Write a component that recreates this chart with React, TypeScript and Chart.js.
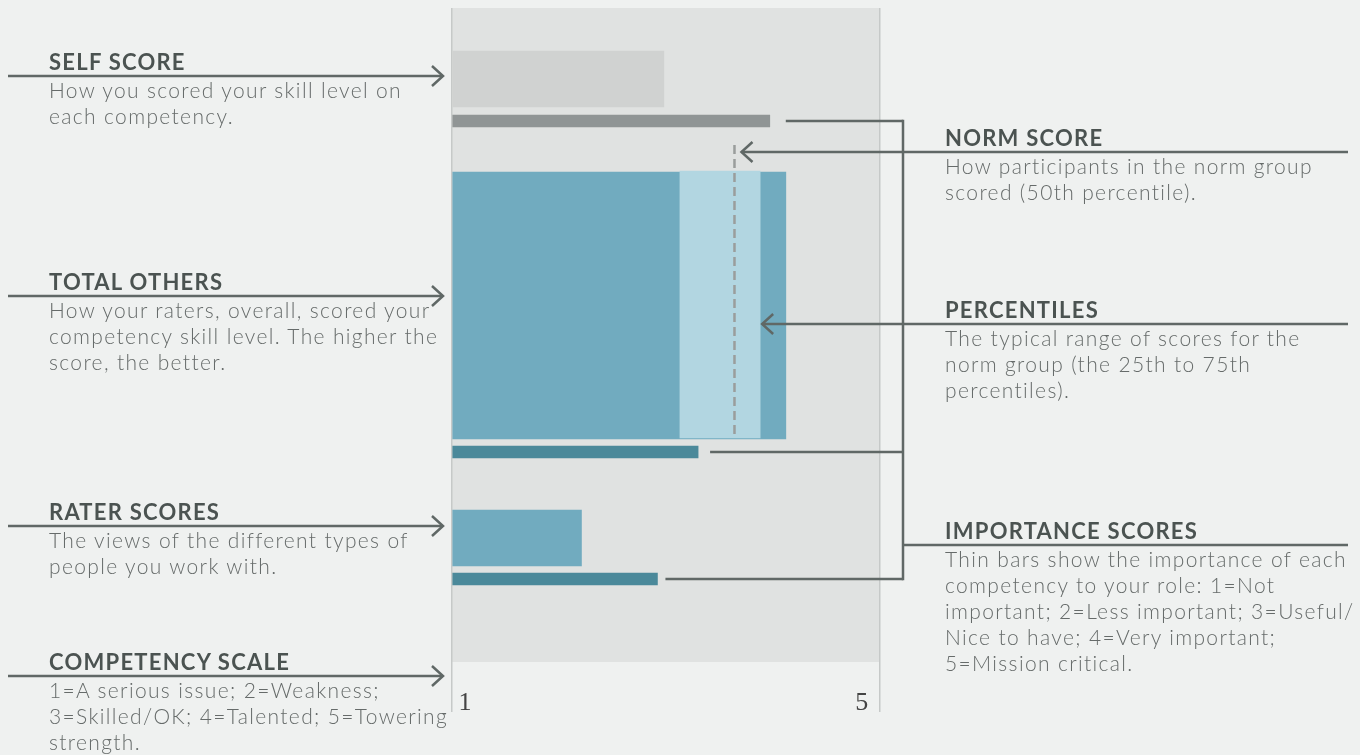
import React, { useEffect, useRef } from 'react';
import { Chart, registerables } from 'chart.js';

Chart.register(...registerables);

// ---------- data ----------
const SCALE_MIN = 1;
const SCALE_MAX = 5;
const TICK_VALUES = [1, 5];
const TICK_LABELS = ['1', '5'];
const ROW_NAMES = ['Self score', 'Total others', 'Rater scores'];
const SKILL_SCORES = [2.98, 4.12, 2.21];
const IMPORTANCE_SCORES = [3.97, 3.3, 2.92];
const PERCENTILE_RANGE = [3.13, 3.88];
const NORM_SCORE = 3.64;

// ---------- layout (plot-height units, measured from the top of the plot) ----------
const PLOT_SPAN = 654;
const SCORE_ROW = [71, 297.5, 530];
const IMPORTANCE_ROW = [113, 444, 571];
const PERCENTILE_ROW = 296.5;
const NORM_LINE_SPAN = [137, 427];
const SCORE_THICKNESS = [56, 267, 56];
const IMPORTANCE_THICKNESS = 12;
const PERCENTILE_THICKNESS = 267;

// ---------- styles ----------
const PAGE_BG = '#eff1f0';
const PLOT_BG = '#e0e2e1';
const SCORE_COLORS = ['#d0d2d1', '#71abbf', '#71abbf'];
const IMPORTANCE_COLORS = ['#909595', '#4b899a', '#4b899a'];
const PERCENTILE_COLOR = '#b2d6e1';
const NORM_COLOR = '#9a9d9c';
const GRID_COLOR = '#c6c9c8';
const CALLOUT_COLOR = '#606866';
const TITLE_COLOR = '#4b5351';
const BODY_COLOR = '#666b6a';

const LEFT_NOTES = [
  { y: 76, title: 'SELF SCORE', lines: ['How you scored your skill level on', 'each competency.'] },
  { y: 296, title: 'TOTAL OTHERS', lines: ['How your raters, overall, scored your', 'competency skill level. The higher the', 'score, the better.'] },
  { y: 526, title: 'RATER SCORES', lines: ['The views of the different types of', 'people you work with.'] },
  { y: 676, title: 'COMPETENCY SCALE', lines: ['1=A serious issue; 2=Weakness;', '3=Skilled/OK; 4=Talented; 5=Towering', 'strength.'] },
];
const RIGHT_NOTES = [
  { y: 152, title: 'NORM SCORE', lines: ['How participants in the norm group', 'scored (50th percentile).'] },
  { y: 324, title: 'PERCENTILES', lines: ['The typical range of scores for the', 'norm group (the 25th to 75th', 'percentiles).'] },
  { y: 545, title: 'IMPORTANCE SCORES', lines: ['Thin bars show the importance of each', 'competency to your role: 1=Not', 'important; 2=Less important; 3=Useful/', 'Nice to have; 4=Very important;', '5=Mission critical.'] },
];

const FONT = 'Lato, "Open Sans", sans-serif';

function arrowHead(ctx: CanvasRenderingContext2D, x: number, y: number, dir: number) {
  ctx.beginPath();
  ctx.moveTo(x - dir * 11, y - 10);
  ctx.lineTo(x, y);
  ctx.lineTo(x - dir * 11, y + 10);
  ctx.stroke();
}

const backdropPlugin = {
  id: 'backdrop',
  beforeDraw(chart: any) {
    const { ctx, chartArea: a } = chart;
    ctx.save();
    ctx.fillStyle = PLOT_BG;
    ctx.fillRect(a.left, a.top, a.right - a.left, a.bottom - a.top);
    ctx.restore();
  },
};

const calloutPlugin = {
  id: 'callouts',
  afterDraw(chart: any) {
    const { ctx } = chart;
    const xs = chart.scales.x;
    const ys = chart.scales.y;
    ctx.save();
    ctx.strokeStyle = CALLOUT_COLOR;
    ctx.lineWidth = 2.5;
    ctx.lineCap = 'butt';
    ctx.lineJoin = 'miter';
    // left arrows
    LEFT_NOTES.forEach((n) => {
      ctx.beginPath();
      ctx.moveTo(8, n.y);
      ctx.lineTo(443, n.y);
      ctx.stroke();
      arrowHead(ctx, 443, n.y, 1);
    });
    // norm arrow
    const normTip = xs.getPixelForValue(NORM_SCORE) + 7;
    ctx.beginPath();
    ctx.moveTo(1348, RIGHT_NOTES[0].y);
    ctx.lineTo(normTip, RIGHT_NOTES[0].y);
    ctx.stroke();
    arrowHead(ctx, normTip, RIGHT_NOTES[0].y, -1);
    // percentile arrow
    const pctTip = xs.getPixelForValue(PERCENTILE_RANGE[1]) + 2;
    ctx.beginPath();
    ctx.moveTo(1348, RIGHT_NOTES[1].y);
    ctx.lineTo(pctTip, RIGHT_NOTES[1].y);
    ctx.stroke();
    arrowHead(ctx, pctTip, RIGHT_NOTES[1].y, -1);
    // importance bracket
    const bx = 903;
    const gaps = [16, 12, 8];
    const rowsY = IMPORTANCE_ROW.map((r) => ys.getPixelForValue(r));
    rowsY.forEach((yy, i) => {
      ctx.beginPath();
      ctx.moveTo(xs.getPixelForValue(IMPORTANCE_SCORES[i]) + gaps[i], yy);
      ctx.lineTo(bx, yy);
      ctx.stroke();
    });
    ctx.beginPath();
    ctx.moveTo(bx, rowsY[0] - 1.25);
    ctx.lineTo(bx, rowsY[2] + 1.25);
    ctx.stroke();
    ctx.beginPath();
    ctx.moveTo(bx, RIGHT_NOTES[2].y);
    ctx.lineTo(1348, RIGHT_NOTES[2].y);
    ctx.stroke();
    ctx.restore();
  },
};

function Note({ x, y, title, lines }: { x: number; y: number; title: string; lines: string[] }) {
  return (
    <>
      <div
        style={{
          position: 'absolute',
          left: x,
          top: y - 27.5,
          font: `700 22px/26px ${FONT}`,
          letterSpacing: '1.25px',
          color: TITLE_COLOR,
          whiteSpace: 'nowrap',
        }}
      >
        {title}
      </div>
      <div
        style={{
          position: 'absolute',
          left: x,
          top: y + 1,
          font: `300 21px/26px ${FONT}`,
          letterSpacing: '1.35px',
          color: BODY_COLOR,
          whiteSpace: 'nowrap',
        }}
      >
        {lines.map((l, i) => (
          <div key={i}>{l}</div>
        ))}
      </div>
    </>
  );
}

export default function App() {
  const ref = useRef<HTMLCanvasElement | null>(null);

  useEffect(() => {
    document.body.style.margin = '0';
    document.body.style.background = PAGE_BG;
    const canvas = ref.current;
    if (!canvas) return;

    const barDefaults = { type: 'bar', grouped: false, base: SCALE_MIN, borderWidth: 0, indexAxis: 'y' };
    const datasets: any[] = [];
    ROW_NAMES.forEach((name, i) => {
      datasets.push({
        ...barDefaults,
        label: name,
        data: [{ x: SKILL_SCORES[i], y: SCORE_ROW[i] }],
        backgroundColor: SCORE_COLORS[i],
        barThickness: SCORE_THICKNESS[i],
        order: 3,
      });
      datasets.push({
        ...barDefaults,
        label: name + ' importance',
        data: [{ x: IMPORTANCE_SCORES[i], y: IMPORTANCE_ROW[i] }],
        backgroundColor: IMPORTANCE_COLORS[i],
        barThickness: IMPORTANCE_THICKNESS,
        order: 3,
      });
    });
    datasets.push({
      ...barDefaults,
      label: 'Percentiles (25th–75th)',
      data: [{ x: PERCENTILE_RANGE, y: PERCENTILE_ROW }],
      backgroundColor: PERCENTILE_COLOR,
      barThickness: PERCENTILE_THICKNESS,
      order: 2,
    });
    datasets.push({
      type: 'line',
      label: 'Norm score',
      indexAxis: 'y',
      data: NORM_LINE_SPAN.map((v) => ({ x: NORM_SCORE, y: v })),
      borderColor: NORM_COLOR,
      borderWidth: 2.5,
      borderDash: [9, 5],
      pointRadius: 0,
      fill: false,
      order: 1,
    });

    const chart = new Chart(canvas, {
      type: 'bar',
      data: { datasets },
      options: {
        indexAxis: 'y',
        animation: false,
        responsive: false,
        devicePixelRatio: 1,
        layout: { padding: { left: 452, right: 480, top: 8, bottom: 0 } },
        plugins: { legend: { display: false }, tooltip: { enabled: false } },
        scales: {
          x: {
            type: 'linear',
            position: 'bottom',
            min: SCALE_MIN,
            max: SCALE_MAX,
            offset: false,
            afterBuildTicks: (s: any) => {
              s.ticks = TICK_VALUES.map((v) => ({ value: v }));
            },
            afterFit: (s: any) => {
              s.height = 93;
            },
            border: { display: false },
            grid: {
              color: GRID_COLOR,
              lineWidth: 1.5,
              drawTicks: true,
              tickLength: 50,
              tickColor: GRID_COLOR,
              tickWidth: 1.5,
              offset: false,
            },
            ticks: {
              align: 'inner',
              padding: -24,
              color: '#444',
              font: { family: 'serif', size: 26 },
              maxRotation: 0,
              callback: (v: any) => {
                const i = TICK_VALUES.indexOf(Number(v));
                const lab = TICK_LABELS[i] ?? String(v);
                return i === 0 ? '\u00a0' + lab : lab + '\u00a0\u2009';
              },
            },
          },
          y: {
            type: 'linear',
            display: false,
            offset: false,
            grace: 0,
            min: 0,
            max: PLOT_SPAN,
            reverse: true,
          },
        },
      } as any,
      plugins: [backdropPlugin, calloutPlugin],
    } as any);

    return () => chart.destroy();
  }, []);

  return (
    <div style={{ position: 'relative', width: 1360, height: 755, background: PAGE_BG, overflow: 'hidden' }}>
      <canvas ref={ref} width={1360} height={755} style={{ position: 'absolute', left: 0, top: 0 }} />
      {LEFT_NOTES.map((n, i) => (
        <Note key={'l' + i} x={49} y={n.y} title={n.title} lines={n.lines} />
      ))}
      {RIGHT_NOTES.map((n, i) => (
        <Note key={'r' + i} x={945} y={n.y} title={n.title} lines={n.lines} />
      ))}
    </div>
  );
}
